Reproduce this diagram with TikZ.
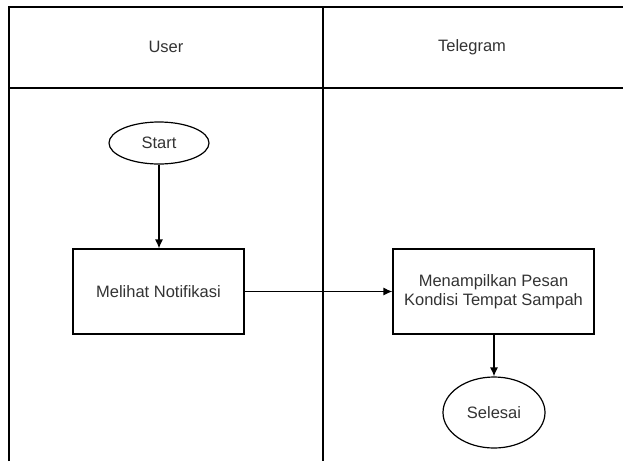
\documentclass[tikz,border=0pt]{standalone}
\usepackage{fontspec}
\setmainfont{Liberation Sans}
\usepackage{tikz}
\usetikzlibrary{shapes, arrows.meta}

\begin{document}
\begin{tikzpicture}[>={Latex[length=9pt, width=8pt]}, x=1pt, y=-1pt, line width=1.2pt,
    every node/.style={font=\fontsize{16.5}{19.5}\selectfont, text=black!80},
    proses/.style={draw, minimum width=171pt, minimum height=85pt, align=center},
    terminal/.style={draw, ellipse}]

    \useasboundingbox (0,0) rectangle (623,461);

    % swimlane
    \draw (9,461) -- (9,7) -- (623,7);
    \draw (9,88) -- (623,88);
    \draw (323,7) -- (323,461);
    \draw(166,47) node (user) {User};
    \draw(472,47) node (telegram) {Telegram};

    \draw(159,143) node[terminal, minimum width=100pt, minimum height=42pt] (start) {Start};
    \draw(158.5,291.5) node[proses] (lihat) {Melihat Notifikasi};
    \draw(493.5,291.5) node[proses, minimum width=201pt] (pesan) {Menampilkan Pesan\\Kondisi Tempat Sampah};
    \draw(494,412.5) node[terminal, minimum width=102pt, minimum height=71pt] (selesai) {Selesai};

    \draw[->] (start) -- (start |- lihat.north);
    \draw[->] (lihat) -- (pesan);
    \draw[->] (pesan.south -| selesai) -- (selesai);

\end{tikzpicture}
\end{document}
